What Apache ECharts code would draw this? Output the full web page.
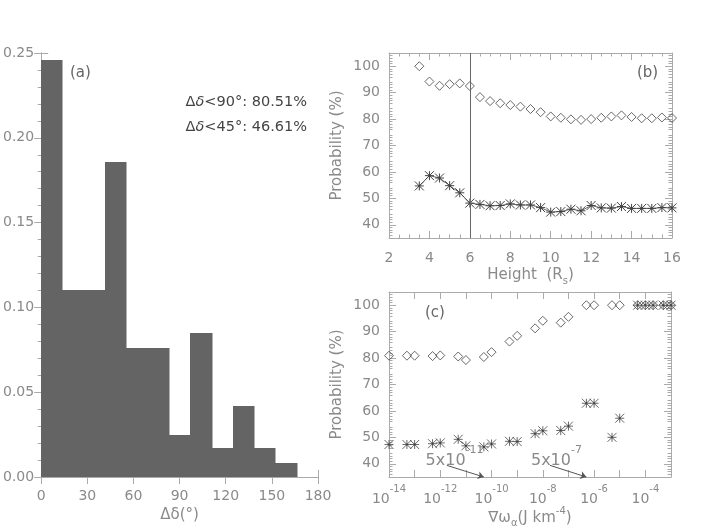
<!DOCTYPE html>
<html>
<head>
<meta charset="utf-8">
<script src="https://cdn.jsdelivr.net/npm/echarts@6/dist/echarts.min.js"></script>
<style>html,body{margin:0;padding:0;background:#fff}#c{width:706px;height:530px}</style>
</head>
<body>
<div id="c"></div>
<script>
// ---------- data ----------
// (a) histogram of delta-delta (13 bins of 180/13 deg)
const binStart = [0, 13.85, 27.69, 41.54, 55.38, 69.23, 83.08, 96.92, 110.77, 124.62, 138.46, 152.31];
const binEnd   = [13.85, 27.69, 41.54, 55.38, 69.23, 83.08, 96.92, 110.77, 124.62, 138.46, 152.31, 166.15];
const binFreq  = [0.246, 0.110, 0.110, 0.186, 0.076, 0.076, 0.025, 0.085, 0.017, 0.042, 0.017, 0.008];

// (b) probability vs height
const heightRs = [3.5, 4, 4.5, 5, 5.5, 6, 6.5, 7, 7.5, 8, 8.5, 9, 9.5, 10, 10.5, 11, 11.5, 12, 12.5, 13, 13.5, 14, 14.5, 15, 15.5, 16];
const probLt90Height = [100, 94.2, 92.6, 93.2, 93.5, 92.5, 88.3, 86.8, 86.0, 85.3, 84.7, 83.8, 82.6, 81.0, 80.5, 79.9, 79.7, 80.0, 80.5, 81.0, 81.4, 80.8, 80.3, 80.3, 80.6, 80.4];
const probLt45Height = [54.7, 58.6, 57.7, 54.8, 52.1, 48.2, 47.7, 47.2, 47.3, 47.9, 47.5, 47.5, 46.5, 44.8, 45.0, 45.9, 45.3, 47.3, 46.4, 46.3, 46.9, 46.2, 46.2, 46.2, 46.5, 46.4];
const heightThreshold = 6;

// (c) probability vs gradient of energy density
const gradW = [1e-14, 5e-14, 1e-13, 5e-13, 1e-12, 5e-12, 1e-11, 5e-11, 1e-10, 5e-10, 1e-9, 5e-9, 1e-8, 5e-8, 1e-7, 5e-7, 1e-6, 5e-6, 1e-5, 5e-5, 1e-4, 2e-4, 5e-4, 1e-3];
const probLt90Grad = [80.9, 80.9, 80.9, 80.75, 81.0, 80.6, 79.25, 80.4, 82.25, 86.25, 88.4, 91.25, 94.1, 93.4, 95.6, 100, 100, 100, 100, 100, 100, 100, 100, 100];
const probLt45Grad = [47.3, 47.3, 47.3, 47.6, 47.9, 49.25, 46.8, 46.4, 47.5, 48.5, 48.4, 51.4, 52.5, 52.6, 54.25, 62.9, 62.9, 50.0, 57.25, 100, 100, 100, 100, 100];
const gradThresholds = [5e-11, 5e-7];
const gradLabelTicks = [1e-14, 1e-12, 1e-10, 1e-8, 1e-6, 1e-4];
const gradTicks = [1e-13, 1e-12, 1e-11, 1e-10, 1e-9, 1e-8, 1e-7, 1e-6, 1e-5, 1e-4];
const probTicks = [40, 50, 60, 70, 80, 90, 100];

// ---------- style ----------
const FONT = 'DejaVu Sans';
const TICKC = '#8a8a8a';
const AXISC = '#aaaaaa';
const MARKC = '#444444';
const STAR = 'path://M0 0L100 100M100 0L0 100M50 0L50 100M0 50L100 50M44 44L56 44L56 56L44 56Z';

const lab = { color: TICKC, fontFamily: FONT, fontSize: 14 };
const nameStyle = { color: TICKC, fontFamily: FONT, fontSize: 15 };
const axLine = { show: true, lineStyle: { color: AXISC, width: 1 } };
const tick = (extra) => Object.assign({ show: true, inside: true, length: 7, lineStyle: { color: AXISC } }, extra || {});
const minor = (n) => ({ show: true, splitNumber: n, length: 3.5, lineStyle: { color: AXISC } });

function zip(a, b) { return a.map((v, i) => [v, b[i]]); }

const supRich = {
  b: { color: TICKC, fontFamily: FONT, fontSize: 14, lineHeight: 22, verticalAlign: 'bottom' },
  s: { color: TICKC, fontFamily: FONT, fontSize: 10, lineHeight: 10, verticalAlign: 'top' }
};
const nameRich = {
  n: { color: TICKC, fontFamily: FONT, fontSize: 15, lineHeight: 22 },
  sub: { color: TICKC, fontFamily: FONT, fontSize: 10, lineHeight: 10, verticalAlign: 'bottom' },
  sup: { color: TICKC, fontFamily: FONT, fontSize: 10, lineHeight: 10, verticalAlign: 'top' }
};

const chart = echarts.init(document.getElementById('c'));

const option = {
  animation: false,
  backgroundColor: '#fff',
  grid: [
    { left: 35, top: 53, width: 283, height: 424 },
    { left: 389, top: 53, width: 283, height: 185 },
    { left: 389, top: 292, width: 282, height: 185 }
  ],
  xAxis: [
    { type: 'value', gridIndex: 0, min: 0, max: 180, interval: 30, axisLine: axLine, axisTick: tick(), splitLine: { show: false },
      axisLabel: Object.assign({ margin: 12 }, lab),
      name: 'Δδ(°)', nameLocation: 'middle', nameGap: 30, nameTextStyle: nameStyle },
    { type: 'value', gridIndex: 0, position: 'top', min: 0, max: 180, interval: 30, axisLine: axLine, axisTick: tick(), splitLine: { show: false }, axisLabel: { show: false } },
    { type: 'value', gridIndex: 1, min: 2, max: 16, interval: 2, axisLine: axLine, axisTick: tick(), minorTick: minor(4), splitLine: { show: false },
      axisLabel: Object.assign({ margin: 13 }, lab),
      name: '{n|Height  (R}{sub|s}{n|)}', nameLocation: 'middle', nameGap: 26, nameTextStyle: { rich: nameRich } },
    { type: 'value', gridIndex: 1, position: 'top', min: 2, max: 16, interval: 2, axisLine: axLine, axisTick: tick(), minorTick: minor(4), splitLine: { show: false }, axisLabel: { show: false } },
    { type: 'log', logBase: 10, gridIndex: 2, min: 1e-14, max: 1e-3, axisLine: axLine,
      axisTick: tick({ customValues: gradTicks }), splitLine: { show: false },
      axisLabel: { customValues: gradLabelTicks, margin: 7, formatter: (v) => '{b|10}{s|' + Math.round(Math.log10(v)) + '}', rich: supRich },
      name: '{n|∇ω}{sub|α}{n|(J km}{sup|-4}{n|)}', nameLocation: 'middle', nameGap: 27, nameTextStyle: { rich: nameRich } },
    { type: 'log', logBase: 10, gridIndex: 2, position: 'top', min: 1e-14, max: 1e-3, axisLine: axLine,
      axisTick: tick({ customValues: gradTicks }), splitLine: { show: false }, axisLabel: { show: false } }
  ],
  yAxis: [
    { type: 'value', gridIndex: 0, min: 0, max: 0.25, interval: 0.05, axisLine: axLine, axisTick: tick(), minorTick: minor(5), splitLine: { show: false },
      axisLabel: Object.assign({ margin: 7, formatter: (v) => v.toFixed(2) }, lab) },
    { type: 'value', gridIndex: 0, position: 'right', min: 0, max: 0.25, interval: 0.05, axisLine: axLine, axisTick: tick(), minorTick: minor(5), splitLine: { show: false }, axisLabel: { show: false } },
    { type: 'value', gridIndex: 1, min: 35, max: 105, interval: 5, axisLine: axLine, axisTick: tick({ customValues: probTicks }), minorTick: minor(5), splitLine: { show: false },
      axisLabel: Object.assign({ margin: 9, customValues: probTicks }, lab),
      name: 'Probability (%)', nameLocation: 'middle', nameGap: 44, nameTextStyle: nameStyle },
    { type: 'value', gridIndex: 1, position: 'right', min: 35, max: 105, interval: 5, axisLine: axLine, axisTick: tick({ customValues: probTicks }), minorTick: minor(5), splitLine: { show: false }, axisLabel: { show: false } },
    { type: 'value', gridIndex: 2, min: 35, max: 105, interval: 5, axisLine: axLine, axisTick: tick({ customValues: probTicks }), minorTick: minor(5), splitLine: { show: false },
      axisLabel: Object.assign({ margin: 9, customValues: probTicks }, lab),
      name: 'Probability (%)', nameLocation: 'middle', nameGap: 44, nameTextStyle: nameStyle },
    { type: 'value', gridIndex: 2, position: 'right', min: 35, max: 105, interval: 5, axisLine: axLine, axisTick: tick({ customValues: probTicks }), minorTick: minor(5), splitLine: { show: false }, axisLabel: { show: false } }
  ],
  series: [
    {
      type: 'custom', xAxisIndex: 0, yAxisIndex: 0, z: 1,
      data: binStart.map((s, i) => [s, binEnd[i], binFreq[i]]),
      encode: { x: [0, 1], y: 2 },
      renderItem: (params, api) => {
        const p0 = api.coord([api.value(0), api.value(2)]);
        const p1 = api.coord([api.value(1), 0]);
        const x0 = Math.round(p0[0]), x1 = Math.round(p1[0]);
        const y0 = Math.round(p0[1]), y1 = Math.round(p1[1]);
        return { type: 'rect', shape: { x: x0, y: y0, width: x1 - x0 + 0.5, height: y1 - y0 },
                 style: { fill: '#646464' } };
      }
    },
    {
      type: 'scatter', xAxisIndex: 2, yAxisIndex: 2, data: zip(heightRs, probLt90Height),
      symbol: 'diamond', symbolSize: 9,
      itemStyle: { color: 'rgba(0,0,0,0)', borderColor: MARKC, borderWidth: 1 }
    },
    {
      type: 'line', xAxisIndex: 2, yAxisIndex: 2, data: zip(heightRs, probLt45Height),
      symbol: STAR, symbolSize: 9, showAllSymbol: true,
      lineStyle: { color: '#666', width: 1 },
      itemStyle: { color: 'rgba(0,0,0,0)', borderColor: MARKC, borderWidth: 1 },
      markLine: { silent: true, symbol: 'none', label: { show: false },
        lineStyle: { color: '#666', width: 1, type: 'solid' },
        data: [{ xAxis: heightThreshold }] }
    },
    {
      type: 'scatter', xAxisIndex: 4, yAxisIndex: 4, data: zip(gradW, probLt90Grad), z: 3,
      symbol: 'diamond', symbolSize: 9,
      itemStyle: { color: 'rgba(0,0,0,0)', borderColor: MARKC, borderWidth: 1 },
      markLine: { silent: true, symbol: 'none', label: { show: false },
        lineStyle: { color: '#aaa', width: 1.6, type: 'solid' },
        data: gradThresholds.map(v => ({ xAxis: v })) },
      markPoint: {
        silent: true, symbol: 'circle', symbolSize: 0,
        label: { show: true, position: 'inside',
          rich: { b: { color: TICKC, fontFamily: FONT, fontSize: 16, lineHeight: 24, verticalAlign: 'bottom' },
                  s: { color: TICKC, fontFamily: FONT, fontSize: 11, lineHeight: 11, verticalAlign: 'top' } } },
        data: [
          { coord: [3.6e-12, 42.8], label: { formatter: '{b|5x10}{s|-11}' } },
          { coord: [3.4e-8, 42.6], label: { formatter: '{b|5x10}{s|-7}' } }
        ]
      }
    },
    {
      type: 'scatter', xAxisIndex: 4, yAxisIndex: 4, data: zip(gradW, probLt45Grad), z: 4,
      symbol: STAR, symbolSize: 9,
      itemStyle: { color: 'rgba(0,0,0,0)', borderColor: MARKC, borderWidth: 1 },
      markLine: { silent: true, label: { show: false },
        lineStyle: { color: '#555', width: 1, type: 'solid' },
        symbol: ['none', 'arrow'], symbolSize: 6,
        data: [
          [{ coord: [1.8e-12, 39.4] }, { coord: [gradThresholds[0], 35] }],
          [{ coord: [1.9e-8, 39.4] }, { coord: [gradThresholds[1], 35] }]
        ] }
    }
  ],
  graphic: [
    { type: 'text', x: 70, y: 73, style: { text: '(a)', fill: '#666', font: '15px "DejaVu Sans"', verticalAlign: 'middle' } },
    { type: 'text', x: 307, y: 102, style: { text: '{d|Δ}{i|δ}{d|<90°: 80.51%}', align: 'right', verticalAlign: 'middle',
        rich: { d: { fill: '#444', fontFamily: FONT, fontSize: 14.5 }, i: { fill: '#444', fontFamily: FONT, fontSize: 14.5, fontStyle: 'italic' } } } },
    { type: 'text', x: 307, y: 127, style: { text: '{d|Δ}{i|δ}{d|<45°: 46.61%}', align: 'right', verticalAlign: 'middle',
        rich: { d: { fill: '#444', fontFamily: FONT, fontSize: 14.5 }, i: { fill: '#444', fontFamily: FONT, fontSize: 14.5, fontStyle: 'italic' } } } },
    { type: 'text', x: 637, y: 73, style: { text: '(b)', fill: '#666', font: '15px "DejaVu Sans"', verticalAlign: 'middle' } },
    { type: 'text', x: 425, y: 313, style: { text: '(c)', fill: '#666', font: '15px "DejaVu Sans"', verticalAlign: 'middle' } }
  ]
};

chart.setOption(option);
</script>
</body>
</html>
